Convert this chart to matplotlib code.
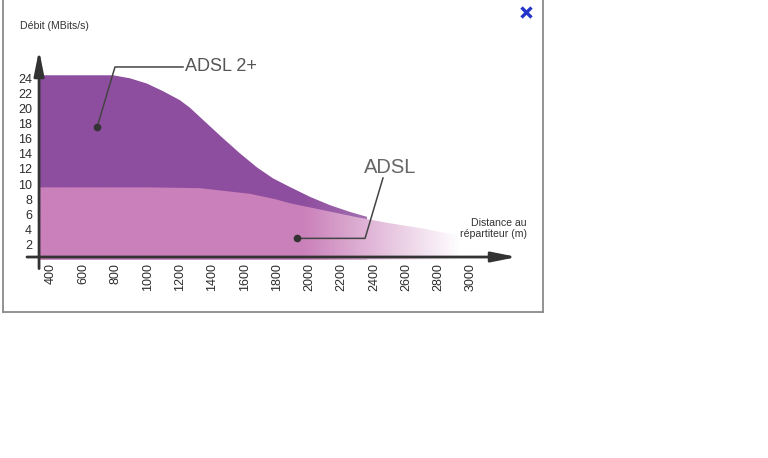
import numpy as np
import matplotlib
matplotlib.use("Agg")
import matplotlib.pyplot as plt
from matplotlib.patches import Polygon
from matplotlib.lines import Line2D

plt.rcParams['font.family'] = ['Liberation Sans', 'DejaVu Sans']

# data (distance in m, speed in MBits/s)
dist_adsl2 = [326, 784, 889, 994, 1093, 1198, 1260, 1366, 1465, 1570, 1675, 1774,
              1879, 2003, 2127, 2251, 2356]
debit_adsl2 = [24.4, 24.4, 24.0, 23.3, 22.3, 21.1, 20.1, 18.0, 16.05, 14.05, 12.2, 10.75,
               9.6, 8.3, 7.2, 6.3, 5.65]

dist_adsl = [326, 1013, 1322, 1632, 1787, 1879, 2003, 2127, 2294, 2498, 2703, 2870, 2930]
debit_adsl = [9.55, 9.55, 9.45, 8.7, 8.0, 7.45, 6.9, 6.35, 5.6, 4.8, 4.1, 3.4, 3.2]

xticks = [400, 600, 800, 1000, 1200, 1400, 1600, 1800, 2000, 2200, 2400, 2600, 2800, 3000]
yticks = [2, 4, 6, 8, 10, 12, 14, 16, 18, 20, 22, 24]

purple = np.array([142, 78, 159]) / 255.0
pink = np.array([202, 128, 186]) / 255.0
W, H = 768, 458

fig = plt.figure(figsize=(7.68, 4.58), dpi=100)
fig.patch.set_facecolor('white')

#axes placed in pixel terms
l, r, t, b = 27, 522, 45, 270
ax = fig.add_axes([l / W, 1 - b / H, (r - l) / W, (b - t) / H])
ax.patch.set_visible(False)
for s in ['top', 'right', 'left', 'bottom']:
    ax.spines[s].set_visible(False)
ax.spines['left'].set_position(('data', 326))
ax.spines['bottom'].set_position(('data', 0.33))

def faded_fill(xs, ys, color, fmax):
    verts = list(zip(xs, ys)) + [(xs[-1], 0), (xs[0], 0)]
    poly = Polygon(verts, closed=True, transform=ax.transData,
                   facecolor='none', edgecolor='none')
    ax.add_patch(poly)
    gx = np.linspace(326, 2960, 800)
    frac = np.clip((gx - 1960) / (2930 - 1960), 0, 1) * fmax
    img = color[None, :] * (1 - frac[:, None]) + frac[:, None]
    im = ax.imshow(img[None, :, :], extent=[326, 2960, 0, 26], aspect='auto',
                   origin='lower', interpolation='bilinear', zorder=1)
    im.set_clip_path(poly)

faded_fill(dist_adsl2, debit_adsl2, purple, 0.45)
faded_fill(dist_adsl, debit_adsl, pink, 1.0)

ax.set_xlim(251.4, 3315.5)
ax.set_ylim(-1.39, 28.41)

ax.set_xticks(xticks)
ax.set_xticklabels([str(v) for v in xticks], rotation=90)
ax.set_yticks(yticks)
ax.set_yticklabels([str(v) for v in yticks])
ax.tick_params(axis='both', length=0, labelsize=9, colors='#2b2b2b')
ax.tick_params(axis='x', pad=4.5)
ax.tick_params(axis='y', pad=5)

# axis arrows
arrow = dict(arrowstyle='-|>,head_length=1.5,head_width=0.3', color='#333333',
             lw=2.0, shrinkA=0, shrinkB=0)
ax.annotate('', xy=(326, 27.75), xytext=(326, -1.2), arrowprops=arrow, zorder=5)
ax.annotate('', xy=(3285, 0.33), xytext=(251.4, 0.33), arrowprops=arrow, zorder=5)

# pointer lines
ax.plot([1217, 796, 685], [25.5, 25.5, 17.5], color='#444444', lw=1.1, zorder=6)
ax.plot([685], [17.5], 'o', color='#333333', ms=4.5, zorder=6)
ax.text(1229, 25.5, 'ADSL 2+', fontsize=13, color='#555555', va='center', ha='left')

ax.plot([2455, 2344, 1923], [10.8, 2.8, 2.8], color='#444444', lw=1.1, zorder=6)
ax.plot([1923], [2.8], 'o', color='#333333', ms=4.5, zorder=6)
ax.text(2498, 12.25, 'ADSL', fontsize=14.5, color='#666666', va='center', ha='center')

# axis titles
fig.text(20 / W, 1 - 26 / H, 'Débit (MBits/s)', fontsize=7.6, color='#333333',
         ha='left', va='center')
fig.text(527 / W, 1 - 222.5 / H, 'Distance au', fontsize=7.6, color='#333333',
         ha='right', va='center')
fig.text(527 / W, 1 - 234 / H, 'répartiteur (m)', fontsize=7.6, color='#333333',
         ha='right', va='center')

# popup frame + close cross
frame = dict(transform=fig.transFigure, color='#8a8a8a', lw=1.3)
fig.add_artist(Line2D([2.5 / W, 2.5 / W], [1, 1 - 312 / H], **frame))
fig.add_artist(Line2D([543 / W, 543 / W], [1, 1 - 312 / H], **frame))
fig.add_artist(Line2D([2.5 / W, 543 / W], [1 - 312 / H, 1 - 312 / H], **frame))
cross = dict(transform=fig.transFigure, color='#2436c8', lw=2.4, solid_capstyle='butt')
fig.add_artist(Line2D([521.5 / W, 531.5 / W], [1 - 7.5 / H, 1 - 17.5 / H], **cross))
fig.add_artist(Line2D([521.5 / W, 531.5 / W], [1 - 17.5 / H, 1 - 7.5 / H], **cross))

fig.savefig('out.png', dpi=100)
